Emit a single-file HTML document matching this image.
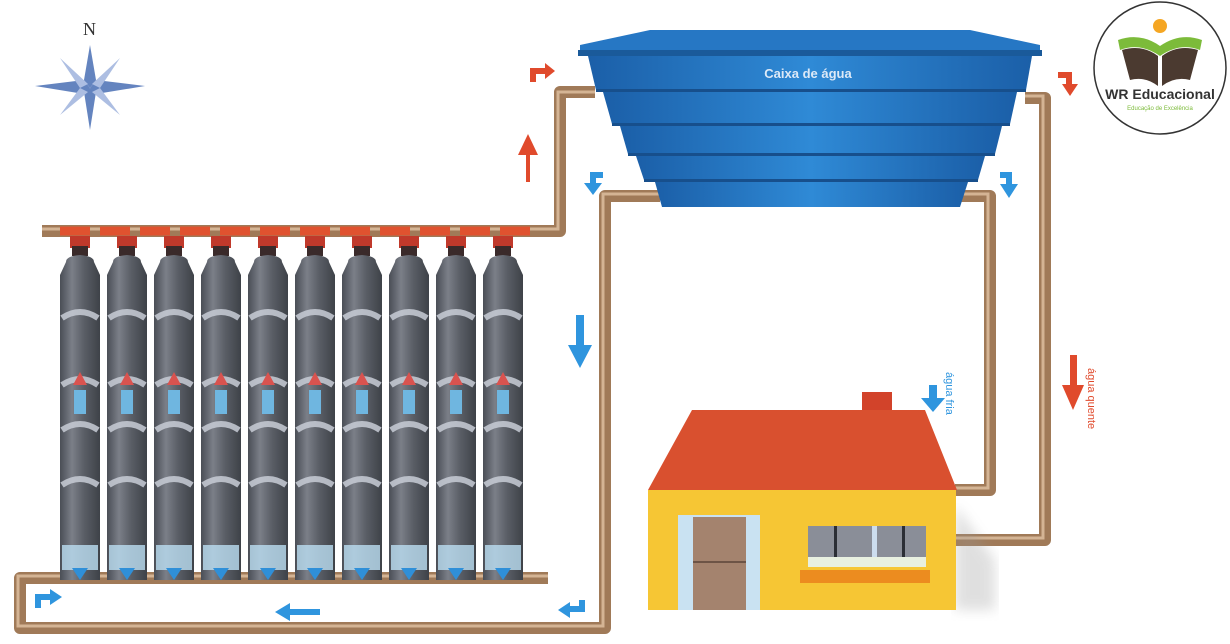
<!DOCTYPE html>
<html><head><meta charset="utf-8"><style>
html,body{margin:0;padding:0;background:#fff}
svg{display:block}
</style></head><body>
<svg width="1230" height="644" viewBox="0 0 1230 644" xmlns="http://www.w3.org/2000/svg" font-family="Liberation Sans, sans-serif">
<defs>
<linearGradient id="tk" x1="0" x2="1"><stop offset="0" stop-color="#1b5fa8"/><stop offset="0.5" stop-color="#2f8ad6"/><stop offset="1" stop-color="#1b5fa8"/></linearGradient>
<linearGradient id="bt" x1="0" x2="1"><stop offset="0" stop-color="#4a4e56"/><stop offset="0.3" stop-color="#7b7f88"/><stop offset="0.6" stop-color="#5a5e66"/><stop offset="1" stop-color="#3e4248"/></linearGradient>
<filter id="bl"><feGaussianBlur stdDeviation="6"/></filter>
</defs>
<!-- compass -->
<g fill="#4a6fb5" opacity="0.85">
<polygon points="90,45 96,80 90,88 84,80"/><polygon points="90,130 96,92 90,88 84,92"/>
<polygon points="35,86 84,80 90,88 84,94"/><polygon points="145,86 96,80 90,88 96,94"/>
<polygon points="60,58 88,84 80,88" fill="#9fb3dd"/><polygon points="120,58 92,84 100,88" fill="#9fb3dd"/>
<polygon points="60,115 88,92 80,88" fill="#9fb3dd"/><polygon points="120,115 92,92 100,88" fill="#9fb3dd"/>
</g>
<text x="83" y="35" font-family="Liberation Serif, serif" font-size="18" fill="#333">N</text>
<!-- pipes -->
<g fill="none" stroke="#a07a58" stroke-width="12" stroke-linejoin="round">
<polyline points="42,231 560,231 560,92 595,92"/>
<polyline points="660,196 605,196 605,628 20,628 20,578 548,578"/>
<polyline points="960,196 990,196 990,490 955,490"/>
<polyline points="1025,98 1045,98 1045,540 955,540"/>
</g>
<g fill="none" stroke="#d4b494" stroke-width="3">
<polyline points="42,229 558,229 558,92 595,92"/>
<polyline points="660,194 603,194 603,626 18,626 18,576 548,576"/>
<polyline points="960,194 988,194 988,488 955,488"/>
<polyline points="1025,96 1043,96 1043,538 955,538"/>
</g>
<line x1="60" y1="231" x2="530" y2="231" stroke="#e0522f" stroke-width="9" stroke-dasharray="30,10"/>
<!-- bottles -->
<g>
<g id="b">
<rect x="70" y="236" width="20" height="12" fill="#c0392b"/>
<rect x="72" y="246" width="16" height="10" fill="#3a2a2a"/>
<path d="M66,262 Q66,256 80,255 Q94,256 94,262 L100,275 L100,580 L60,580 L60,275 Z" fill="url(#bt)"/>
<path d="M62,318 Q80,306 98,318 M62,385 Q80,373 98,385 M62,430 Q80,418 98,430 M62,485 Q80,473 98,485" stroke="#c8ccd6" stroke-width="6" fill="none" opacity="0.85"/>
<rect x="74" y="390" width="12" height="24" fill="#6fb6e0"/>
<polygon points="80,372 87,385 73,385" fill="#d9534f"/>
<rect x="62" y="545" width="36" height="25" fill="#bcdff2" opacity="0.8"/>
<polygon points="80,580 72,568 88,568" fill="#2f8fd8"/>
</g>
<use href="#b" x="47"/><use href="#b" x="94"/><use href="#b" x="141"/><use href="#b" x="188"/>
<use href="#b" x="235"/><use href="#b" x="282"/><use href="#b" x="329"/><use href="#b" x="376"/><use href="#b" x="423"/>
</g>
<!-- tank -->
<polygon points="580,45 650,30 970,30 1040,45 1040,55 580,55" fill="#2677c4"/>
<rect x="578" y="50" width="464" height="6" fill="#1a5a9a"/>
<polygon points="588,56 1032,56 1026,90 596,90" fill="url(#tk)"/>
<polygon points="603,92 1017,92 1010,124 612,124" fill="url(#tk)"/>
<polygon points="620,126 1002,126 995,154 628,154" fill="url(#tk)"/>
<polygon points="636,156 985,156 978,180 644,180" fill="url(#tk)"/>
<polygon points="655,182 968,182 960,207 662,207" fill="url(#tk)"/>
<g fill="#174f8c"><rect x="596" y="89" width="430" height="3"/><rect x="612" y="123" width="398" height="3"/><rect x="628" y="153" width="367" height="3"/><rect x="644" y="179" width="334" height="3"/></g>
<text x="808" y="78" text-anchor="middle" font-size="13" font-weight="bold" fill="#dce9f7">Caixa de água</text>
<!-- house -->
<polygon points="955,505 995,560 995,610 955,610" fill="#999" opacity="0.3" filter="url(#bl)"/>
<rect x="862" y="392" width="30" height="22" fill="#d2432a"/>
<polygon points="648,490 692,410 925,410 957,490" fill="#d9502f"/>
<rect x="648" y="490" width="308" height="120" fill="#f6c634"/>
<rect x="678" y="515" width="82" height="95" fill="#c9e2f2"/>
<rect x="693" y="517" width="53" height="93" fill="#a4836e"/>
<line x1="693" y1="562" x2="746" y2="562" stroke="#6d5446" stroke-width="2"/>
<rect x="808" y="526" width="118" height="33" fill="#8a8e98"/>
<g fill="#2b2e35"><rect x="834" y="526" width="3" height="33"/><rect x="872" y="526" width="5" height="33" fill="#cde"/><rect x="902" y="526" width="3" height="33"/></g>
<rect x="808" y="557" width="118" height="10" fill="#e8f0e0"/>
<rect x="800" y="570" width="130" height="13" fill="#ec8c1f"/>
<!-- arrows -->
<g fill="#e04a2c">
<polygon points="526,182 526,155 518,155 528,134 538,155 530,155 530,182"/>
<path d="M530,82 L530,68 L545,68 L545,63 L555,71 L545,79 L545,74 L536,74 L536,82Z"/>
<path d="M1058,72 L1072,72 L1072,84 L1078,84 L1070,96 L1062,84 L1066,84 L1066,78 L1058,78Z"/>
<polygon points="1070,355 1077,355 1077,385 1084,385 1073,410 1062,385 1070,385"/>
</g>
<g fill="#2f95de">
<path d="M603,172 L590,172 L590,183 L584,183 L593,195 L602,183 L596,183 L596,178 L603,178Z"/>
<path d="M1000,172 L1012,172 L1012,184 L1018,184 L1009,198 L1000,184 L1006,184 L1006,178 L1000,178Z"/>
<polygon points="576,315 584,315 584,345 592,345 580,368 568,345 576,345"/>
<polygon points="929,385 937,385 937,398 945,398 933,412 921,398 929,398"/>
<polygon points="275,612 290,603 290,609 320,609 320,615 290,615 290,621"/>
<path d="M585,600 L585,612 L570,612 L570,618 L558,610 L570,602 L570,606 L579,606 L579,600Z"/>
<path d="M35,608 L35,594 L50,594 L50,589 L62,597 L50,605 L50,600 L41,600 L41,608Z"/>
</g>
<text transform="translate(946,372) rotate(90)" font-size="11" fill="#2f95de">água fria</text>
<text transform="translate(1088,368) rotate(90)" font-size="11" fill="#e04a2c">água quente</text>
<!-- logo -->
<circle cx="1160" cy="68" r="66" fill="#fff" stroke="#333" stroke-width="1.5"/>
<circle cx="1160" cy="26" r="7" fill="#f5a623"/>
<path d="M1118,40 Q1140,32 1160,46 Q1180,32 1202,40 L1200,50 Q1180,42 1160,56 Q1140,42 1120,50Z" fill="#7cbb3a"/>
<path d="M1122,50 Q1142,44 1158,56 L1158,86 Q1145,76 1130,80Z" fill="#4b3a30"/>
<path d="M1198,50 Q1178,44 1162,56 L1162,86 Q1175,76 1190,80Z" fill="#4b3a30"/>
<text x="1160" y="99" text-anchor="middle" font-size="14" font-weight="bold" fill="#333">WR Educacional</text>
<text x="1160" y="110" text-anchor="middle" font-size="6" fill="#7cbb3a">Educação de Excelência</text>
</svg>
</body></html>
